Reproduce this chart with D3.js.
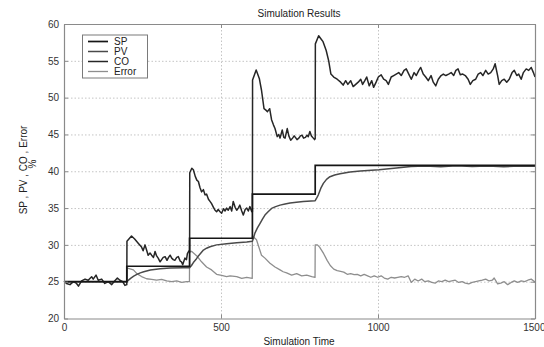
<!DOCTYPE html>
<html><head><meta charset="utf-8">
<script src="https://cdn.jsdelivr.net/npm/d3@7"></script>
<style>
body{margin:0;background:#fff;}
text{font-family:"Liberation Sans",Arial,sans-serif;}
</style></head>
<body><svg id="c" width="544" height="347"></svg>
<script>
const xTicks = [0, 500, 1000, 1500];
const yTicks = [20, 25, 30, 35, 40, 45, 50, 55, 60];
const seriesNames = ["SP", "PV", "CO", "Error"];

const spTime = [0, 200, 400, 600, 800, 1500];
const spValue = [25, 27.1, 30.9, 36.9, 40.8, 40.8];

const pvPoints = [[0,25],[200,25],[212,25.45],[222,25.75],[232,26.0],[243,26.2],[254,26.35],[275,26.6],[306,26.75],[338,26.85],[380,26.9],[400,26.9],[406,27.2],[412,27.6],[420,28.0],[428,28.5],[436,28.9],[444,29.3],[454,29.55],[465,29.75],[486,30.0],[518,30.15],[550,30.3],[582,30.4],[600,30.5],[604,31.0],[608,31.6],[616,32.3],[624,32.9],[632,33.5],[640,34.05],[650,34.5],[661,34.95],[674,35.2],[688,35.4],[704,35.55],[720,35.7],[740,35.8],[762,35.9],[800,36.0],[804,36.3],[810,36.8],[818,37.7],[826,38.35],[836,38.9],[847,39.26],[862,39.5],[879,39.65],[911,39.9],[944,40.05],[1003,40.2],[1051,40.4],[1105,40.65],[1150,40.7],[1200,40.6],[1250,40.75],[1300,40.65],[1350,40.7],[1400,40.6],[1450,40.72],[1500,40.68]];

const coPoints = [[0,25.1],[8,24.76],[19,24.6],[30,25.0],[40,24.76],[46,24.4],[56,25.1],[67,25.35],[77,25.2],[88,25.67],[93,25.35],[102,25.9],[109,25.2],[120,25.35],[130,24.76],[141,25.0],[152,24.6],[159,25.0],[170,25.5],[178,25.2],[187,25.0],[194,24.5],[200,24.6],
[200.5,30.5],[215,31.2],[225,30.8],[237,30.2],[247,29.7],[252,29.2],[258,30.0],[263,29.3],[268,28.6],[274,28.9],[279,28.6],[285,28.3],[290,29.1],[295,28.5],[300,28.2],[306,27.7],[311,28.0],[316,28.3],[322,28.4],[328,27.9],[333,28.3],[338,28.6],[343,28.2],[348,28.0],[353,27.9],[359,28.3],[364,28.4],[370,27.8],[374,27.7],[378,27.3],[385,28.2],[390,28.0],[393,28.8],[398,29.2],[400,29.0],
[400.5,39.8],[407,40.4],[412,40.2],[418,39.3],[423,38.8],[428,38.6],[433,37.8],[438,37.2],[444,37.5],[449,36.8],[454,36.9],[460,36.2],[465,35.9],[470,35.6],[476,35.1],[481,34.7],[486,34.5],[491,34.8],[497,34.5],[502,34.3],[508,34.9],[513,34.6],[518,35.0],[523,34.7],[529,35.2],[534,34.6],[539,35.9],[545,35.1],[550,34.7],[555,35.0],[560,35.4],[566,34.6],[571,34.05],[577,34.8],[582,35.0],[587,34.6],[592,35.2],[598,34.5],[600,34.5],
[600.5,52.4],[612,53.75],[622,52.6],[629,51.0],[637,48.5],[643,48.3],[648,48.1],[655,48.5],[661,47.0],[667,46.3],[672,45.8],[679,44.7],[684,45.0],[688,44.5],[695,45.6],[700,44.6],[704,44.5],[711,45.8],[716,44.8],[722,44.2],[728,44.5],[733,44.8],[737,44.6],[742,44.3],[748,44.5],[753,44.8],[758,44.9],[763,44.5],[769,44.6],[774,44.9],[778,44.7],[783,45.4],[788,44.8],[794,44.5],[798,44.3],[800,44.4],
[800.5,57.3],[811,58.4],[818,58.0],[825,57.6],[835,56.4],[843,55.0],[850,53.2],[859,52.8],[870,52.5],[881,52.1],[889,51.7],[897,52.3],[904,51.8],[913,52.3],[921,51.5],[929,51.8],[937,52.1],[945,52.5],[951,51.8],[958,52.3],[964,52.8],[972,51.6],[980,52.3],[986,51.4],[994,52.1],[1001,52.8],[1010,53.1],[1018,52.5],[1026,52.3],[1033,51.8],[1042,52.8],[1050,53.0],[1058,53.2],[1066,53.4],[1074,53.0],[1083,53.7],[1090,53.9],[1098,53.2],[1106,52.5],[1115,53.4],[1122,53.0],[1130,53.7],[1136,54.1],[1144,53.2],[1152,52.8],[1160,52.3],[1169,53.0],[1176,52.1],[1184,51.6],[1192,52.5],[1201,53.0],[1208,53.2],[1216,53.0],[1225,53.2],[1233,53.4],[1241,53.0],[1248,53.7],[1255,53.9],[1262,53.1],[1270,53.2],[1278,53.0],[1287,52.5],[1294,51.8],[1302,52.3],[1311,52.5],[1319,53.2],[1327,53.4],[1334,53.0],[1343,53.7],[1351,53.2],[1359,53.4],[1367,53.9],[1373,54.6],[1381,53.0],[1386,51.8],[1394,52.3],[1402,52.5],[1410,52.1],[1418,52.5],[1427,53.4],[1434,53.7],[1442,53.0],[1448,53.2],[1456,52.5],[1463,53.4],[1472,53.9],[1480,53.7],[1488,54.1],[1495,53.4],[1500,52.8]];

const errPoints = [[0,25],[200,25],[200.5,26.8],[205,26.8],[221,26.6],[232,26.1],[247,25.7],[263,25.4],[279,25.3],[295,25.2],[311,25.3],[327,25.1],[343,25.0],[359,25.1],[375,24.9],[390,25.0],[399.5,25.0],[400,29.1],[407,29.1],[423,28.5],[438,27.7],[454,27.0],[470,26.6],[486,26.0],[502,25.85],[518,25.7],[529,25.8],[550,25.7],[566,25.45],[582,25.6],[599.5,25.45],[600,31.2],[613,30.7],[629,28.6],[640,28.2],[656,27.5],[672,27.0],[688,26.6],[698,26.35],[709,26.2],[725,25.9],[741,26.1],[757,25.8],[773,25.9],[789,25.7],[799.5,25.6],[800,30.0],[807,30.0],[814,29.7],[827,28.8],[838,27.9],[848,27.2],[859,26.7],[870,26.5],[881,26.4],[891,26.3],[902,26.0],[913,26.1],[924,25.95],[934,26.0],[945,25.8],[956,26.0],[967,25.8],[977,25.6],[988,25.8],[999,25.6],[1010,25.8],[1020,25.5],[1031,25.35],[1042,25.6],[1053,25.5],[1063,25.6],[1074,25.7],[1085,25.6],[1096,25.8],[1106,24.9],[1117,25.35],[1128,25.1],[1139,25.35],[1149,25.0],[1160,25.1],[1171,24.9],[1182,24.8],[1192,25.1],[1203,25.0],[1214,25.2],[1225,25.0],[1235,25.1],[1246,25.2],[1257,24.9],[1268,25.0],[1278,24.8],[1289,24.7],[1300,24.9],[1311,25.0],[1321,25.1],[1332,25.2],[1343,25.35],[1354,25.1],[1364,25.2],[1370,25.5],[1381,24.7],[1391,24.8],[1402,25.0],[1413,24.6],[1424,24.9],[1434,25.1],[1445,24.9],[1456,25.1],[1467,25.0],[1477,25.2],[1488,25.35],[1499,25.0],[1500,24.9]];

const colors = {SP:"#161616", PV:"#4a4a4a", CO:"#262626", Error:"#8e8e8e"};
const widths = {SP:1.7, PV:1.5, CO:1.5, Error:1.3};

const svg = d3.select("#c");
const L = 64, T = 24, R = 535, B = 318.5;
const x = d3.scaleLinear().domain([0,1500]).range([L,R]);
const y = d3.scaleLinear().domain([20,60]).range([B,T]);

// grid
const gridCol = "#c4c4c4";
svg.append("g").attr("transform",`translate(0,${B})`)
  .call(d3.axisBottom(x).tickValues(xTicks.slice(1,-1)).tickSize(-(B-T)).tickFormat(""))
  .call(g=>{g.select(".domain").remove(); g.selectAll("line").attr("stroke",gridCol).attr("stroke-dasharray","1.5,2");});
svg.append("g").attr("transform",`translate(${L},0)`)
  .call(d3.axisLeft(y).tickValues(yTicks.slice(1,-1)).tickSize(-(R-L)).tickFormat(""))
  .call(g=>{g.select(".domain").remove(); g.selectAll("line").attr("stroke",gridCol).attr("stroke-dasharray","1.5,2");});

// lines
const line = d3.line().x(d=>x(d[0])).y(d=>y(d[1]));
const spData = spTime.map((t,i)=>[t, spValue[i]]);
const plot = svg.append("g");
plot.append("path").datum(errPoints).attr("d",line).attr("fill","none").attr("stroke",colors.Error).attr("stroke-width",widths.Error).attr("stroke-linejoin","round");
plot.append("path").datum(pvPoints).attr("d",line).attr("fill","none").attr("stroke",colors.PV).attr("stroke-width",widths.PV).attr("stroke-linejoin","round");
plot.append("path").datum(coPoints).attr("d",line).attr("fill","none").attr("stroke",colors.CO).attr("stroke-width",widths.CO).attr("stroke-linejoin","round");
plot.append("path").datum(spData).attr("d",d3.line().x(d=>x(d[0])).y(d=>y(d[1])).curve(d3.curveStepAfter)).attr("fill","none").attr("stroke",colors.SP).attr("stroke-width",widths.SP);

// axes
const axCol = "#8a8a8a", txtCol = "#333";
function styleAxis(g){ g.select(".domain").attr("stroke",axCol).attr("stroke-width",1.2); g.selectAll(".tick line").attr("stroke",axCol); g.selectAll("text").attr("fill",txtCol).style("font-size","10px").style("font-family","'Liberation Sans',Arial,sans-serif"); }
svg.append("g").attr("transform",`translate(0,${B})`)
  .call(d3.axisBottom(x).tickValues(xTicks).tickSizeInner(-4).tickSizeOuter(0).tickPadding(5).tickFormat(d3.format("d"))).call(styleAxis)
  .call(g=>g.selectAll(".tick text").filter(d=>d===1500).attr("text-anchor","end").attr("dx","10"));
svg.append("g").attr("transform",`translate(${L},0)`)
  .call(d3.axisLeft(y).tickValues(yTicks).tickSizeInner(-4).tickSizeOuter(0).tickPadding(5).tickFormat(d3.format("d"))).call(styleAxis);
svg.append("g").attr("transform",`translate(0,${T})`)
  .call(d3.axisTop(x).tickValues(xTicks).tickSizeInner(-4).tickSizeOuter(0).tickFormat("")).call(styleAxis);
svg.append("g").attr("transform",`translate(${R},0)`)
  .call(d3.axisRight(y).tickValues(yTicks).tickSizeInner(-4).tickSizeOuter(0).tickFormat("")).call(styleAxis);

// title and labels
svg.append("text").attr("x",299).attr("y",17).attr("text-anchor","middle").attr("fill","#222").style("font-size","10px").text("Simulation Results");
svg.append("text").attr("x",299).attr("y",345).attr("text-anchor","middle").attr("fill","#222").style("font-size","10px").text("Simulation Time");
svg.append("text").attr("transform","translate(27,170) rotate(-90)").attr("text-anchor","middle").attr("fill","#222").style("font-size","10px").text("SP , PV , CO , Error");
svg.append("text").attr("transform","translate(36,164) rotate(-90)").attr("text-anchor","middle").attr("fill","#222").style("font-size","10px").text("%");

// legend
const lg = svg.append("g");
lg.append("rect").attr("x",82.5).attr("y",35).attr("width",65).attr("height",43).attr("fill","#fff").attr("stroke","#7a7a7a").attr("stroke-width",1);
seriesNames.forEach((n,i)=>{
  const yy = 41.5 + i*10;
  lg.append("line").attr("x1",88).attr("x2",108).attr("y1",yy).attr("y2",yy).attr("stroke",colors[n]).attr("stroke-width",widths[n]);
  lg.append("text").attr("x",114).attr("y",yy+3.5).attr("fill","#222").style("font-size","10px").text(n);
});
</script></body></html>
